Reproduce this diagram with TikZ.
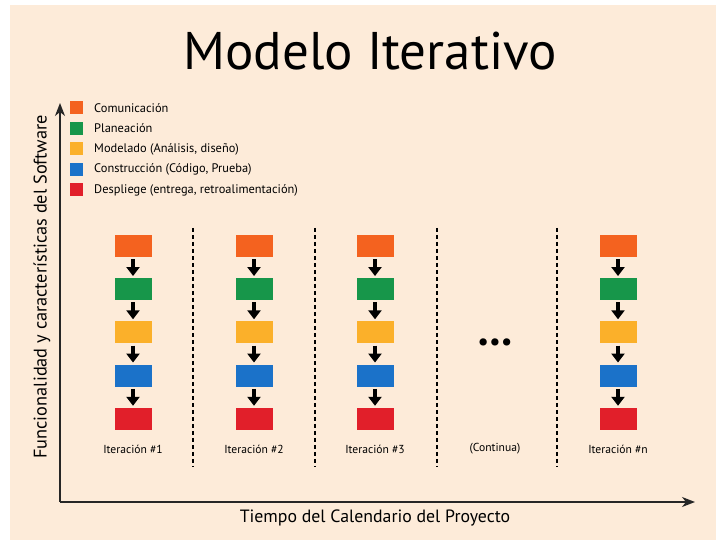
\documentclass[tikz,border=0pt]{standalone}
\usepackage{fontspec}
\setmainfont{PT Sans}
\usetikzlibrary{arrows.meta, positioning}

\definecolor{fondo}{HTML}{FDEBD9}
\definecolor{naranja}{HTML}{F4621F}
\definecolor{verde}{HTML}{17964A}
\definecolor{amarillo}{HTML}{FBB02A}
\definecolor{azul}{HTML}{1B72C9}
\definecolor{rojo}{HTML}{E11F2A}

\begin{document}
\begin{tikzpicture}[x=1pt, y=-1pt, node distance={43.25pt},
  fase/.style = {minimum width=37pt, minimum height=22pt, inner sep=0pt},
  cuadro/.style = {minimum size=13pt, inner sep=0pt},
  paso/.style = {-{Triangle[length=9pt, width=13pt]}, line width=4pt, shorten <=2pt, shorten >=2pt},
  eje/.style = {-{Stealth[length=13pt, width=10pt, inset=4pt]}, line width=1.6pt, black!85},
  corte/.style = {dash pattern=on 4pt off 3pt, line width=1.2pt},
  etiqueta/.style = {font=\fontsize{11.6}{13}\selectfont},
  leyenda/.style = {font=\fontsize{12.4}{14}\selectfont, anchor=west}]
\useasboundingbox (0,0) rectangle (716,540);
\fill[fondo] (10,5) rectangle (716,540);

\node (titulo) at (370,51) {\fontsize{53}{60}\selectfont Modelo Iterativo};

% ejes
\coordinate (o) at (60,502);
\coordinate (ytop) at (60,103);
\coordinate (xend) at (695,502);
\draw[eje] (o) -- (ytop);
\draw[eje] (o) -- (xend);
\node[rotate=90] (ylab) at (42,287) {\fontsize{18.3}{20}\selectfont Funcionalidad y características del Software};
\node (xlab) at (375,518) {\fontsize{17.8}{20}\selectfont Tiempo del Calendario del Proyecto};

% leyenda
\node[cuadro, fill=naranja] (l1) at (76,108) {};
\node[cuadro, fill=verde] (l2) at (76,128.5) {};
\node[cuadro, fill=amarillo] (l3) at (76,149) {};
\node[cuadro, fill=azul] (l4) at (76,169.5) {};
\node[cuadro, fill=rojo] (l5) at (76,190) {};
\node[leyenda] (t1) [right=8pt of l1] {Comunicación};
\node[leyenda] (t2) [right=8pt of l2] {Planeación};
\node[leyenda] (t3) [right=8pt of l3] {Modelado (Análisis, diseño)};
\node[leyenda] (t4) [right=8pt of l4] {Construcción (Código, Prueba)};
\node[leyenda] (t5) [right=8pt of l5] {Despliege (entrega, retroalimentación)};

% iteracion 1
\node[fase, fill=naranja] (a1) at (133,246) {};
\node[fase, fill=verde] (b1) [below of=a1] {};
\node[fase, fill=amarillo] (c1) [below of=b1] {};
\node[fase, fill=azul] (d1) [below of=c1] {};
\node[fase, fill=rojo] (e1) [below of=d1] {};
\draw[paso] (a1) -- (b1);
\draw[paso] (b1) -- (c1);
\draw[paso] (c1) -- (d1);
\draw[paso] (d1) -- (e1);

% iteracion 2
\node[fase, fill=naranja] (a2) at (254,246) {};
\node[fase, fill=verde] (b2) [below of=a2] {};
\node[fase, fill=amarillo] (c2) [below of=b2] {};
\node[fase, fill=azul] (d2) [below of=c2] {};
\node[fase, fill=rojo] (e2) [below of=d2] {};
\draw[paso] (a2) -- (b2);
\draw[paso] (b2) -- (c2);
\draw[paso] (c2) -- (d2);
\draw[paso] (d2) -- (e2);

% iteracion 3
\node[fase, fill=naranja] (a3) at (375,246) {};
\node[fase, fill=verde] (b3) [below of=a3] {};
\node[fase, fill=amarillo] (c3) [below of=b3] {};
\node[fase, fill=azul] (d3) [below of=c3] {};
\node[fase, fill=rojo] (e3) [below of=d3] {};
\draw[paso] (a3) -- (b3);
\draw[paso] (b3) -- (c3);
\draw[paso] (c3) -- (d3);
\draw[paso] (d3) -- (e3);

% iteracion n
\node[fase, fill=naranja] (an) at (618,246) {};
\node[fase, fill=verde] (bn) [below of=an] {};
\node[fase, fill=amarillo] (cn) [below of=bn] {};
\node[fase, fill=azul] (dn) [below of=cn] {};
\node[fase, fill=rojo] (en) [below of=dn] {};
\draw[paso] (an) -- (bn);
\draw[paso] (bn) -- (cn);
\draw[paso] (cn) -- (dn);
\draw[paso] (dn) -- (en);

\node (puntos) at (495,345) {\fontsize{26}{28}\selectfont \textbullet\textbullet\textbullet};

% etiquetas
\node[etiqueta] (i1) at (133,449) {Iteración \#1};
\node[etiqueta] (i2) at (254,449) {Iteración \#2};
\node[etiqueta] (i3) at (375,449) {Iteración \#3};
\node[etiqueta] (ic) at (495,449) {(Continua)};
\node[etiqueta] (in) at (618,449) {Iteración \#n};

% separadores
\draw[corte] (193,228) -- (193,467);
\draw[corte] (315,228) -- (315,467);
\draw[corte] (437,228) -- (437,467);
\draw[corte] (557,228) -- (557,467);
\end{tikzpicture}
\end{document}
